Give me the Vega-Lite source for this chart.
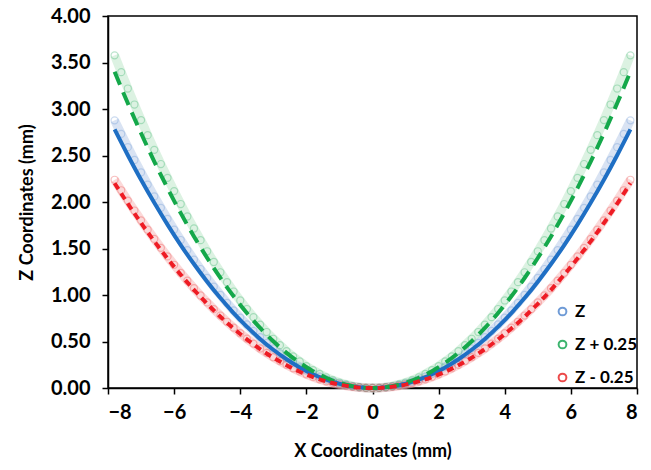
{
  "$schema": "https://vega.github.io/schema/vega-lite/v6.json",
  "width": 529,
  "height": 372,
  "autosize": {"type": "none"},
  "padding": {"left": 108, "top": 16, "right": 14, "bottom": 82},
  "background": "white",
  "config": {
    "font": "Lato",
    "view": {"stroke": "black", "strokeWidth": 1.5},
    "axis": {
      "grid": false,
      "domainColor": "black",
      "domainWidth": 1.5,
      "tickColor": "black",
      "tickWidth": 1.5,
      "tickSize": 6,
      "labelFont": "Lato",
      "labelFontWeight": "bold",
      "labelFontSize": 20,
      "labelColor": "black",
      "titleFont": "Lato",
      "titleFontWeight": "bold",
      "titleFontSize": 18,
      "titleColor": "black"
    }
  },
  "datasets": {
    "pts": [
      {"x": -7.8, "Z": 2.878, "Zp": 3.577, "Zm": 2.239},
      {"x": -7.6, "Z": 2.732, "Zp": 3.396, "Zm": 2.126},
      {"x": -7.4, "Z": 2.590, "Zp": 3.220, "Zm": 2.015},
      {"x": -7.2, "Z": 2.452, "Zp": 3.048, "Zm": 1.908},
      {"x": -7.0, "Z": 2.318, "Zp": 2.881, "Zm": 1.803},
      {"x": -6.8, "Z": 2.187, "Zp": 2.719, "Zm": 1.702},
      {"x": -6.6, "Z": 2.060, "Zp": 2.561, "Zm": 1.603},
      {"x": -6.4, "Z": 1.937, "Zp": 2.408, "Zm": 1.507},
      {"x": -6.2, "Z": 1.818, "Zp": 2.260, "Zm": 1.415},
      {"x": -6.0, "Z": 1.703, "Zp": 2.117, "Zm": 1.325},
      {"x": -5.8, "Z": 1.591, "Zp": 1.978, "Zm": 1.238},
      {"x": -5.6, "Z": 1.483, "Zp": 1.844, "Zm": 1.154},
      {"x": -5.4, "Z": 1.379, "Zp": 1.715, "Zm": 1.073},
      {"x": -5.2, "Z": 1.279, "Zp": 1.590, "Zm": 0.995},
      {"x": -5.0, "Z": 1.183, "Zp": 1.470, "Zm": 0.920},
      {"x": -4.8, "Z": 1.090, "Zp": 1.355, "Zm": 0.848},
      {"x": -4.6, "Z": 1.001, "Zp": 1.244, "Zm": 0.779},
      {"x": -4.4, "Z": 0.916, "Zp": 1.138, "Zm": 0.712},
      {"x": -4.2, "Z": 0.834, "Zp": 1.037, "Zm": 0.649},
      {"x": -4.0, "Z": 0.757, "Zp": 0.941, "Zm": 0.589},
      {"x": -3.8, "Z": 0.683, "Zp": 0.849, "Zm": 0.531},
      {"x": -3.6, "Z": 0.613, "Zp": 0.762, "Zm": 0.477},
      {"x": -3.4, "Z": 0.547, "Zp": 0.680, "Zm": 0.425},
      {"x": -3.2, "Z": 0.484, "Zp": 0.602, "Zm": 0.377},
      {"x": -3.0, "Z": 0.426, "Zp": 0.529, "Zm": 0.331},
      {"x": -2.8, "Z": 0.371, "Zp": 0.461, "Zm": 0.289},
      {"x": -2.6, "Z": 0.320, "Zp": 0.397, "Zm": 0.249},
      {"x": -2.4, "Z": 0.272, "Zp": 0.339, "Zm": 0.212},
      {"x": -2.2, "Z": 0.229, "Zp": 0.285, "Zm": 0.178},
      {"x": -2.0, "Z": 0.189, "Zp": 0.235, "Zm": 0.147},
      {"x": -1.8, "Z": 0.153, "Zp": 0.191, "Zm": 0.119},
      {"x": -1.6, "Z": 0.121, "Zp": 0.151, "Zm": 0.094},
      {"x": -1.4, "Z": 0.093, "Zp": 0.115, "Zm": 0.072},
      {"x": -1.2, "Z": 0.068, "Zp": 0.085, "Zm": 0.053},
      {"x": -1.0, "Z": 0.047, "Zp": 0.059, "Zm": 0.037},
      {"x": -0.8, "Z": 0.030, "Zp": 0.038, "Zm": 0.024},
      {"x": -0.6, "Z": 0.017, "Zp": 0.021, "Zm": 0.013},
      {"x": -0.4, "Z": 0.008, "Zp": 0.009, "Zm": 0.006},
      {"x": -0.2, "Z": 0.002, "Zp": 0.002, "Zm": 0.001},
      {"x": 0.0, "Z": 0.0, "Zp": 0.0, "Zm": 0.0},
      {"x": 0.2, "Z": 0.002, "Zp": 0.002, "Zm": 0.001},
      {"x": 0.4, "Z": 0.008, "Zp": 0.009, "Zm": 0.006},
      {"x": 0.6, "Z": 0.017, "Zp": 0.021, "Zm": 0.013},
      {"x": 0.8, "Z": 0.030, "Zp": 0.038, "Zm": 0.024},
      {"x": 1.0, "Z": 0.047, "Zp": 0.059, "Zm": 0.037},
      {"x": 1.2, "Z": 0.068, "Zp": 0.085, "Zm": 0.053},
      {"x": 1.4, "Z": 0.093, "Zp": 0.115, "Zm": 0.072},
      {"x": 1.6, "Z": 0.121, "Zp": 0.151, "Zm": 0.094},
      {"x": 1.8, "Z": 0.153, "Zp": 0.191, "Zm": 0.119},
      {"x": 2.0, "Z": 0.189, "Zp": 0.235, "Zm": 0.147},
      {"x": 2.2, "Z": 0.229, "Zp": 0.285, "Zm": 0.178},
      {"x": 2.4, "Z": 0.272, "Zp": 0.339, "Zm": 0.212},
      {"x": 2.6, "Z": 0.320, "Zp": 0.397, "Zm": 0.249},
      {"x": 2.8, "Z": 0.371, "Zp": 0.461, "Zm": 0.289},
      {"x": 3.0, "Z": 0.426, "Zp": 0.529, "Zm": 0.331},
      {"x": 3.2, "Z": 0.484, "Zp": 0.602, "Zm": 0.377},
      {"x": 3.4, "Z": 0.547, "Zp": 0.680, "Zm": 0.425},
      {"x": 3.6, "Z": 0.613, "Zp": 0.762, "Zm": 0.477},
      {"x": 3.8, "Z": 0.683, "Zp": 0.849, "Zm": 0.531},
      {"x": 4.0, "Z": 0.757, "Zp": 0.941, "Zm": 0.589},
      {"x": 4.2, "Z": 0.834, "Zp": 1.037, "Zm": 0.649},
      {"x": 4.4, "Z": 0.916, "Zp": 1.138, "Zm": 0.712},
      {"x": 4.6, "Z": 1.001, "Zp": 1.244, "Zm": 0.779},
      {"x": 4.8, "Z": 1.090, "Zp": 1.355, "Zm": 0.848},
      {"x": 5.0, "Z": 1.183, "Zp": 1.470, "Zm": 0.920},
      {"x": 5.2, "Z": 1.279, "Zp": 1.590, "Zm": 0.995},
      {"x": 5.4, "Z": 1.379, "Zp": 1.715, "Zm": 1.073},
      {"x": 5.6, "Z": 1.483, "Zp": 1.844, "Zm": 1.154},
      {"x": 5.8, "Z": 1.591, "Zp": 1.978, "Zm": 1.238},
      {"x": 6.0, "Z": 1.703, "Zp": 2.117, "Zm": 1.325},
      {"x": 6.2, "Z": 1.818, "Zp": 2.260, "Zm": 1.415},
      {"x": 6.4, "Z": 1.937, "Zp": 2.408, "Zm": 1.507},
      {"x": 6.6, "Z": 2.060, "Zp": 2.561, "Zm": 1.603},
      {"x": 6.8, "Z": 2.187, "Zp": 2.719, "Zm": 1.702},
      {"x": 7.0, "Z": 2.318, "Zp": 2.881, "Zm": 1.803},
      {"x": 7.2, "Z": 2.452, "Zp": 3.048, "Zm": 1.908},
      {"x": 7.4, "Z": 2.590, "Zp": 3.220, "Zm": 2.015},
      {"x": 7.6, "Z": 2.732, "Zp": 3.396, "Zm": 2.126},
      {"x": 7.8, "Z": 2.878, "Zp": 3.577, "Zm": 2.239}
    ],
    "fit": [
      {"x": -7.8, "Z": 2.780, "Zp": 3.401, "Zm": 2.202},
      {"x": -7.4, "Z": 2.503, "Zp": 3.061, "Zm": 1.982},
      {"x": -7.0, "Z": 2.239, "Zp": 2.739, "Zm": 1.774},
      {"x": -6.6, "Z": 1.991, "Zp": 2.435, "Zm": 1.577},
      {"x": -6.2, "Z": 1.757, "Zp": 2.149, "Zm": 1.392},
      {"x": -5.8, "Z": 1.537, "Zp": 1.880, "Zm": 1.218},
      {"x": -5.4, "Z": 1.333, "Zp": 1.630, "Zm": 1.056},
      {"x": -5.0, "Z": 1.143, "Zp": 1.398, "Zm": 0.905},
      {"x": -4.6, "Z": 0.967, "Zp": 1.183, "Zm": 0.766},
      {"x": -4.2, "Z": 0.806, "Zp": 0.986, "Zm": 0.639},
      {"x": -3.8, "Z": 0.660, "Zp": 0.807, "Zm": 0.523},
      {"x": -3.4, "Z": 0.528, "Zp": 0.646, "Zm": 0.418},
      {"x": -3.0, "Z": 0.411, "Zp": 0.503, "Zm": 0.326},
      {"x": -2.6, "Z": 0.309, "Zp": 0.378, "Zm": 0.245},
      {"x": -2.2, "Z": 0.221, "Zp": 0.271, "Zm": 0.175},
      {"x": -1.8, "Z": 0.148, "Zp": 0.181, "Zm": 0.117},
      {"x": -1.4, "Z": 0.090, "Zp": 0.110, "Zm": 0.071},
      {"x": -1.0, "Z": 0.046, "Zp": 0.056, "Zm": 0.036},
      {"x": -0.6, "Z": 0.016, "Zp": 0.020, "Zm": 0.013},
      {"x": -0.2, "Z": 0.002, "Zp": 0.002, "Zm": 0.001},
      {"x": 0.0, "Z": 0.0, "Zp": 0.0, "Zm": 0.0},
      {"x": 0.2, "Z": 0.002, "Zp": 0.002, "Zm": 0.001},
      {"x": 0.6, "Z": 0.016, "Zp": 0.020, "Zm": 0.013},
      {"x": 1.0, "Z": 0.046, "Zp": 0.056, "Zm": 0.036},
      {"x": 1.4, "Z": 0.090, "Zp": 0.110, "Zm": 0.071},
      {"x": 1.8, "Z": 0.148, "Zp": 0.181, "Zm": 0.117},
      {"x": 2.2, "Z": 0.221, "Zp": 0.271, "Zm": 0.175},
      {"x": 2.6, "Z": 0.309, "Zp": 0.378, "Zm": 0.245},
      {"x": 3.0, "Z": 0.411, "Zp": 0.503, "Zm": 0.326},
      {"x": 3.4, "Z": 0.528, "Zp": 0.646, "Zm": 0.418},
      {"x": 3.8, "Z": 0.660, "Zp": 0.807, "Zm": 0.523},
      {"x": 4.2, "Z": 0.806, "Zp": 0.986, "Zm": 0.639},
      {"x": 4.6, "Z": 0.967, "Zp": 1.183, "Zm": 0.766},
      {"x": 5.0, "Z": 1.143, "Zp": 1.398, "Zm": 0.905},
      {"x": 5.4, "Z": 1.333, "Zp": 1.630, "Zm": 1.056},
      {"x": 5.8, "Z": 1.537, "Zp": 1.880, "Zm": 1.218},
      {"x": 6.2, "Z": 1.757, "Zp": 2.149, "Zm": 1.392},
      {"x": 6.6, "Z": 1.991, "Zp": 2.435, "Zm": 1.577},
      {"x": 7.0, "Z": 2.239, "Zp": 2.739, "Zm": 1.774},
      {"x": 7.4, "Z": 2.503, "Zp": 3.061, "Zm": 1.982},
      {"x": 7.8, "Z": 2.780, "Zp": 3.401, "Zm": 2.202}
    ]
  },
  "encoding": {
    "x": {
      "field": "x",
      "type": "quantitative",
      "scale": {"domain": [-8, 8], "nice": false},
      "axis": {"values": [-8, -6, -4, -2, 0, 2, 4, 6, 8], "title": "X Coordinates (mm)", "labelPadding": 8, "titlePadding": 20}
    }
  },
  "layer": [
    {
      "data": {"name": "pts"},
      "transform": [{"fold": ["Z", "Zp", "Zm"], "as": ["sb", "z"]}],
      "mark": {"type": "line", "strokeWidth": 9, "opacity": 0.5, "interpolate": "monotone"},
      "encoding": {
        "y": {
          "field": "z",
          "type": "quantitative",
          "scale": {"domain": [0, 4], "nice": false},
          "axis": {"values": [0, 0.5, 1, 1.5, 2, 2.5, 3, 3.5, 4], "format": ".2f", "title": "Z Coordinates (mm)", "labelPadding": 12, "titlePadding": 14}
        },
        "stroke": {"field": "sb", "type": "nominal", "scale": {"domain": ["Z", "Zp", "Zm"], "range": ["#b4c8e8", "#b9e6c6", "#f8b4b4"]}, "legend": null}
      }
    },
    {
      "data": {"name": "pts"},
      "transform": [{"fold": ["Z", "Zp", "Zm"], "as": ["s", "z"]}],
      "mark": {"type": "point", "filled": false, "size": 50, "strokeWidth": 1.2, "opacity": 0.35},
      "encoding": {
        "y": {"field": "z", "type": "quantitative"},
        "color": {
          "field": "s",
          "type": "nominal",
          "scale": {"domain": ["Z", "Zp", "Zm"], "range": ["#6f9bd6", "#3cb46e", "#ec4a4a"]},
          "legend": {
            "title": null,
            "orient": "none",
            "legendX": 446,
            "legendY": 287,
            "symbolType": "circle",
            "symbolSize": 60,
            "symbolStrokeWidth": 2,
            "symbolOpacity": 1,
            "symbolFillColor": "white",
            "labelFont": "Lato",
            "labelFontSize": 17,
            "labelFontWeight": "bold",
            "labelColor": "black",
            "labelOffset": 4,
            "rowPadding": 15,
            "labelExpr": "datum.label == 'Zp' ? 'Z + 0.25' : datum.label == 'Zm' ? 'Z - 0.25' : 'Z'"
          }
        }
      }
    },
    {
      "data": {"name": "fit"},
      "mark": {"type": "line", "strokeWidth": 4, "interpolate": "monotone", "stroke": "#1f6fc4"},
      "encoding": {"y": {"field": "Z", "type": "quantitative"}}
    },
    {
      "data": {"name": "fit"},
      "mark": {"type": "line", "strokeWidth": 4, "interpolate": "monotone", "stroke": "#14a84a", "strokeDash": [14, 8]},
      "encoding": {"y": {"field": "Zp", "type": "quantitative"}}
    },
    {
      "data": {"name": "fit"},
      "mark": {"type": "line", "strokeWidth": 4, "interpolate": "monotone", "stroke": "#ee1c24", "strokeDash": [7, 5]},
      "encoding": {"y": {"field": "Zm", "type": "quantitative"}}
    }
  ],
  "resolve": {"scale": {"stroke": "independent"}}
}
